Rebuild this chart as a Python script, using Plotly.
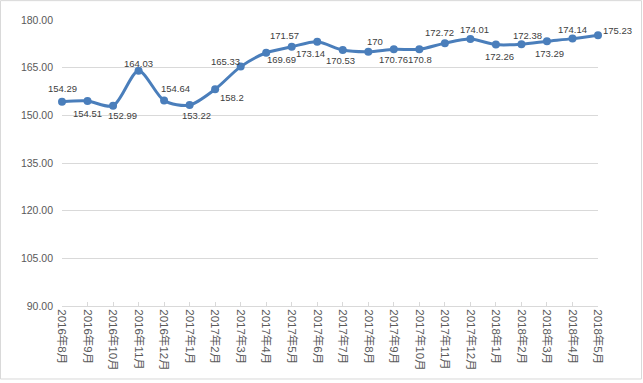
import plotly.graph_objects as go

categories = ["2016年8月", "2016年9月", "2016年10月", "2016年11月", "2016年12月",
              "2017年1月", "2017年2月", "2017年3月", "2017年4月", "2017年5月",
              "2017年6月", "2017年7月", "2017年8月", "2017年9月", "2017年10月",
              "2017年11月", "2017年12月", "2018年1月", "2018年2月", "2018年3月",
              "2018年4月", "2018年5月"]
values = [154.29, 154.51, 152.99, 164.03, 154.64, 153.22, 158.2, 165.33, 169.69, 171.57,
          173.14, 170.53, 170, 170.76, 170.8, 172.72, 174.01, 172.26, 172.38, 173.29,
          174.14, 175.23]
y_ticks = [90, 105, 120, 135, 150, 165, 180]

# data-label pixel offsets from each point (dx right, dy down)
label_dx = [0, 0, 9, 0, 11, 7, 17, -15, 15, -7, -7, -2, 7, 0, 1, -5, 4, 4, 6, 3, 0, 19]
label_dy = [-13, 12, 10, -7, -12, 10, 8, -5, 7, -11, 12, 10, -10, 10, 10, -11, -10, 12, -9, 12, -9, -5]

W, H = 643, 383
L, R, T, B = 62, 45, 20, 75
pw, ph = W - L - R, H - T - B
BLUE = "#4A7EBB"
FONT = "Liberation Sans, Noto Sans CJK SC"

fig = go.Figure()
fig.add_trace(go.Scatter(
    x=categories, y=values,
    mode="lines+markers",
    line=dict(color=BLUE, width=3, shape="spline", smoothing=0.8),
    marker=dict(color=BLUE, size=8),
    cliponaxis=False,
    showlegend=False,
))

annotations = []
for c, v, dx, dy in zip(categories, values, label_dx, label_dy):
    annotations.append(dict(
        x=c, y=v, xref="x", yref="y", text=f"{v:g}", showarrow=False,
        xanchor="center", yanchor="middle", xshift=dx, yshift=-dy,
        font=dict(family=FONT, size=9.5, color="#404040"),
    ))

fig.update_layout(
    width=W, height=H,
    margin=dict(l=L, r=R, t=T, b=B, pad=0),
    plot_bgcolor="white", paper_bgcolor="white",
    font=dict(family=FONT, color="#595959"),
    annotations=annotations,
    xaxis=dict(
        type="category", range=[0, len(categories) - 1],
        tickangle=90, tickfont=dict(size=11.5, color="#595959", family=FONT),
        showgrid=False, showline=True, linecolor="#D9D9D9", linewidth=1,
        ticks="inside", ticklen=4, tickcolor="#D9D9D9",
    ),
    yaxis=dict(
        range=[90, 180], tickvals=y_ticks, tickformat=".2f",
        tickfont=dict(size=10.5, color="#595959"),
        showgrid=True, gridcolor="#D9D9D9", gridwidth=1,
        zeroline=False, showline=False, ticks="", ticklabelstandoff=8,
    ),
    shapes=[dict(
        type="rect", xref="paper", yref="paper",
        x0=(0.5 - L) / pw, x1=(W - 1.5 - L) / pw,
        y0=-(B - 1.5) / ph, y1=(ph + T - 0.5) / ph,
        line=dict(color="#D9D9D9", width=1), layer="below",
    )],
)

fig.write_html(
    "out.html",
    config={"displayModeBar": False},
    post_script="document.body.style.margin='0';document.body.style.overflow='hidden';",
)
